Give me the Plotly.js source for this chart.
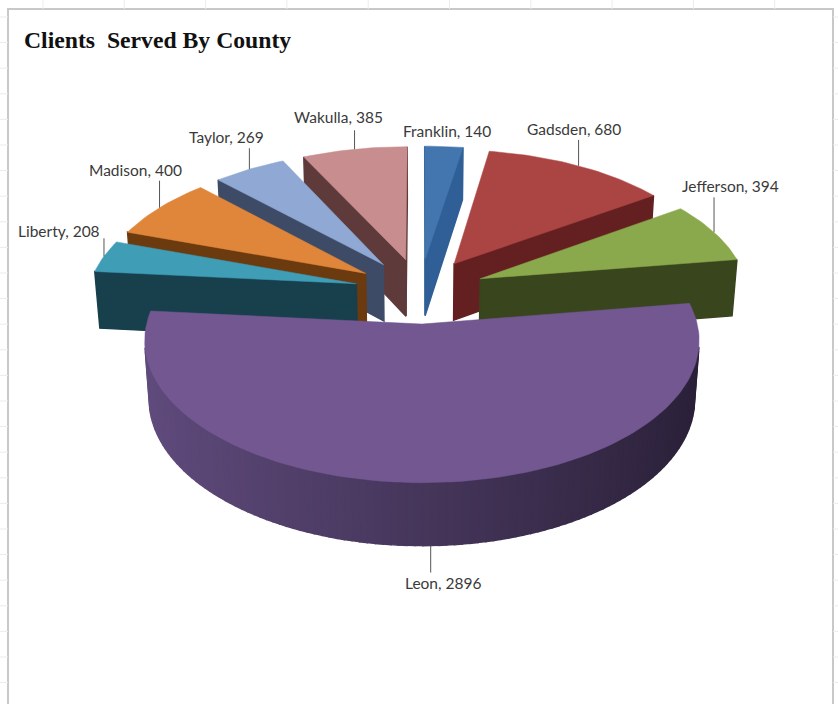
<!DOCTYPE html>
<html><head><meta charset="utf-8">
<script src="https://cdn.plot.ly/plotly-3.0.1.min.js"></script>
<style>html,body{margin:0;padding:0;background:#fff}#c{width:838px;height:704px}</style></head>
<body><div id="c"></div>
<script>
// ---- data ----
const counties = ["Franklin","Gadsden","Jefferson","Leon","Liberty","Madison","Taylor","Wakulla"];
const clients  = [140,680,394,2896,208,400,269,385];

// ---- styles ----
const topColors  = ["#4375ae","#aa4543","#8aa84c","#735791","#3f9db6","#e0863a","#8fa8d4","#c88d8e"];
const wallLeft   = ["#2f5f96","#642020","#38451d","#614c7e","#173f4c","#6b3a0e","#3e4b66","#5e3a3a"];
const wallRight  = ["#2f5f96","#642020","#38451d","#2a2038","#173f4c","#6b3a0e","#3e4b66","#5e3a3a"];
const labelFont  = {family:"Lato, 'Open Sans', sans-serif", size:15.5, color:"#3a3a3a"};
// leader length and label offset from the leader's outer end, px
const leader  = [0,26,35,27,18,27,21,19];
const labelDx = [3,-5,16,12,-45,-24,-23,-16];
const labelDy = [-15,-11,-11,10,-7,-11,-11,-13];

// ---- view model of the tilted, exploded pie ----
const view = {cx:420, cy:290.7, F:2059, D:7.69, s:0.495, c:0.869, thick:0.25, pull:0.245};
function project(X,Y,Z){
  const w = view.D + Y*view.c - Z*view.s;
  return [view.cx + view.F*X/w, view.cy - view.F*(Y*view.s + Z*view.c)/w];
}
function mix(a,b,t){
  const p=h=>[1,3,5].map(i=>parseInt(h.substr(i,2),16));
  const A=p(a),B=p(b);
  return "rgb("+A.map((v,i)=>Math.round(v+(B[i]-v)*t)).join(",")+")";
}
const total = clients.reduce((a,b)=>a+b,0);
let run = 0;
const slices = clients.map((v,i)=>{
  const a0 = run/total*2*Math.PI; run += v; const a1 = run/total*2*Math.PI;
  const mid=(a0+a1)/2;
  return {i,a0,a1,mid,ox:view.pull*Math.sin(mid),oy:view.pull*Math.cos(mid)};
});

const traces=[], annotations=[];
function poly(pts,color,lw){
  traces.push({type:"scatter",mode:"lines",x:pts.map(p=>p[0]).concat(pts[0][0]),y:pts.map(p=>p[1]).concat(pts[0][1]),
    fill:"toself",fillcolor:color,line:{color:color,width:lw},hoverinfo:"skip",showlegend:false});
}
function area(q){let s=0;q.forEach((p,k)=>{const n=q[(k+1)%q.length];s+=p[0]*n[1]-n[0]*p[1];});return s;}

slices.slice().sort((a,b)=>b.oy-a.oy).forEach(sl=>{
  const n=Math.max(4,Math.ceil((sl.a1-sl.a0)/(1.5*Math.PI/180)));
  const ring=[[sl.ox,sl.oy]];
  for(let k=0;k<=n;k++){const t=sl.a0+(sl.a1-sl.a0)*k/n;ring.push([sl.ox+Math.sin(t),sl.oy+Math.cos(t)]);}
  const top=ring.map(p=>project(p[0],p[1],0));
  const bot=ring.map(p=>project(p[0],p[1],-view.thick));
  // side faces that look toward the camera
  ring.forEach((p,k)=>{
    const m=(k+1)%ring.length;
    const q=[top[k],top[m],bot[m],bot[k]];
    if(area(q)<0){
      const xm=(p[0]+ring[m][0])/2;
      poly(q,mix(wallLeft[sl.i],wallRight[sl.i],Math.max(0,Math.min(1,(xm+1)/2))),1.5);
    }
  });
  poly(top,topColors[sl.i],0.5);
});

// leader lines and data labels
slices.forEach(sl=>{
  const rx=sl.ox+Math.sin(sl.mid), ry=sl.oy+Math.cos(sl.mid);
  const front=Math.cos(sl.mid)<-0.5;
  const a=project(rx,ry,front?-view.thick:0);
  const dir=front?1:-1;
  const e=[a[0],a[1]+dir*leader[sl.i]];
  if(leader[sl.i]>0) traces.push({type:"scatter",mode:"lines",x:[a[0],e[0]],y:[a[1],e[1]],
    line:{color:"#555555",width:1},hoverinfo:"skip",showlegend:false});
  annotations.push({x:e[0]+labelDx[sl.i],y:e[1]+labelDy[sl.i],xref:"x",yref:"y",showarrow:false,
    text:counties[sl.i]+", "+clients[sl.i],font:labelFont,xanchor:"center",yanchor:"middle"});
});

// sheet frame and the faint worksheet grid around it
const shapes=[{type:"rect",xref:"x",yref:"y",x0:8,y0:9,x1:833,y1:720,line:{color:"#c8c8c8",width:2},fillcolor:"rgba(0,0,0,0)"}];
const gridColor="#ececec";
for(let k=0;k<10;k++){const x=43+81.3*k;shapes.push({type:"line",xref:"x",yref:"y",x0:x,x1:x,y0:0,y1:9,line:{color:gridColor,width:1}});}
for(let k=0;k<27;k++){const y=17+25.6*k;
  shapes.push({type:"line",xref:"x",yref:"y",x0:0,x1:8,y0:y,y1:y,line:{color:gridColor,width:1}});
  shapes.push({type:"line",xref:"x",yref:"y",x0:833,x1:838,y0:y,y1:y,line:{color:gridColor,width:1}});}

const axis={visible:false,fixedrange:true,showgrid:false,zeroline:false};
Plotly.newPlot("c",traces,{
  width:838,height:704,margin:{l:0,r:0,t:0,b:0},
  paper_bgcolor:"#fff",plot_bgcolor:"#fff",showlegend:false,hovermode:false,
  title:{text:"Clients\u00a0\u00a0Served By County",x:24/838,xanchor:"left",y:1-40/704,yanchor:"middle",
    font:{family:"'Liberation Serif', serif",size:23.7,color:"#111",weight:700}},
  xaxis:Object.assign({range:[0,838]},axis),
  yaxis:Object.assign({range:[704,0]},axis),
  shapes:shapes,annotations:annotations
},{displayModeBar:false,staticPlot:true});
</script></body></html>
